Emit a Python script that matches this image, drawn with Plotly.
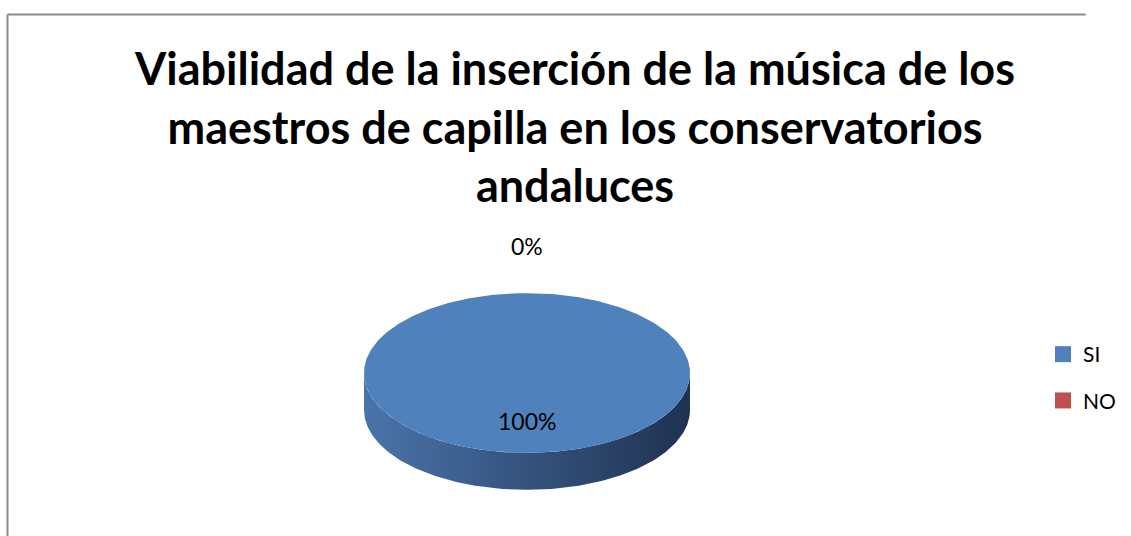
import numpy as np
import plotly.graph_objects as go

# ---- data ----
categories = ["SI", "NO"]
values = [100, 0]
colors = ["#4F81BD", "#C0504D"]
side_dark = ["#1F3250", "#6B2A28"]
side_light = ["#4A74AA", "#A84542"]
title_lines = ["Viabilidad de la inserción de la música de los",
               "maestros de capilla en los conservatorios",
               "andaluces"]

# ---- geometry (units: pie radius = 1) ----
W, H = 1131, 536
CX_PX, CY_PX, R_PX = 527, 373, 163
TILT = 0.49
DEPTH = 0.227
xr = [(0 - CX_PX) / R_PX, (W - CX_PX) / R_PX]
yr = [(CY_PX - H) / R_PX, CY_PX / R_PX]

total = float(sum(values))
fig = go.Figure()

def pt(theta_deg, r=1.0, dz=0.0):
    t = np.radians(theta_deg)
    return r * np.sin(t), r * TILT * np.cos(t) - dz

start = 0.0
slices = []
for cat, v, c, cd, cl in zip(categories, values, colors, side_dark, side_light):
    span = 360.0 * v / total
    slices.append((cat, start, start + span, c, cd, cl, v))
    start += span

# sides (front visible portion: 90..270 deg clockwise from top)
for cat, a0, a1, c, cd, cl, v in slices:
    lo, hi = max(a0, 90.0), min(a1, 270.0)
    if hi > lo:
        th = np.linspace(lo, hi, 200)
        xt, yt = pt(th)
        xb, yb = pt(th[::-1], dz=DEPTH)
        xs = np.concatenate([xt, xb, xt[:1]])
        ys = np.concatenate([yt, yb, yt[:1]])
        fig.add_trace(go.Scatter(
            x=xs, y=ys, mode="lines", fill="toself", line=dict(width=0),
            fillgradient=dict(type="horizontal",
                              colorscale=[[0, cl], [1, cd]]),
            hoverinfo="skip", showlegend=False))

# top faces
for cat, a0, a1, c, cd, cl, v in slices:
    if a1 > a0:
        th = np.linspace(a0, a1, 400)
        xa, ya = pt(th)
        if a1 - a0 >= 359.999:
            xs, ys = xa, ya
        else:
            xs = np.concatenate([[0], xa, [0]])
            ys = np.concatenate([[0], ya, [0]])
        fig.add_trace(go.Scatter(
            x=xs, y=ys, mode="lines", fill="toself", fillcolor=c,
            line=dict(width=0), hoverinfo="skip", showlegend=False))

# labels
for cat, a0, a1, c, cd, cl, v in slices:
    mid = (a0 + a1) / 2.0
    r = 0.6 if v > 0 else 1.59
    lx, ly = pt(mid, r=r)
    fig.add_annotation(x=lx, y=ly, text=f"{v / total * 100:.0f}%",
                       showarrow=False,
                       font=dict(family="Lato", size=23, color="#000000"))

# legend entries
for i, (cat, c) in enumerate(zip(categories, colors)):
    fig.add_trace(go.Scatter(
        x=[None], y=[None], mode="markers", name=cat, legendgroup=cat,
        marker=dict(symbol="square", size=16, color=c)))

# chart border (left and top edges visible)
border = dict(color="#8C8C8C", width=2)
fig.add_shape(type="line", xref="paper", yref="paper",
              x0=7.5 / W, x1=7.5 / W, y0=0, y1=1 - 14.5 / H, line=border)
fig.add_shape(type="line", xref="paper", yref="paper",
              x0=7.5 / W, x1=0.96, y0=1 - 14.5 / H, y1=1 - 14.5 / H,
              line=border)

fig.update_layout(
    width=W, height=H,
    margin=dict(l=0, r=0, t=0, b=0),
    paper_bgcolor="white", plot_bgcolor="white",
    xaxis=dict(range=xr, visible=False, fixedrange=True),
    yaxis=dict(range=yr, visible=False, fixedrange=True),
    title=dict(text="<b>" + "<br>".join(title_lines) + "</b>",
               x=575 / W, xanchor="center", y=1 - 85 / H, yanchor="top",
               font=dict(family="Lato", size=45, color="#000000")),
    legend=dict(x=1043 / W, y=1 - 334 / H, xanchor="left", yanchor="top",
                font=dict(family="Lato", size=21, color="#000000"),
                tracegroupgap=16, itemwidth=30, bgcolor="rgba(0,0,0,0)",
                maxheight=400),
    showlegend=True,
)

fig.write_html("out.html", config={"displayModeBar": False})
